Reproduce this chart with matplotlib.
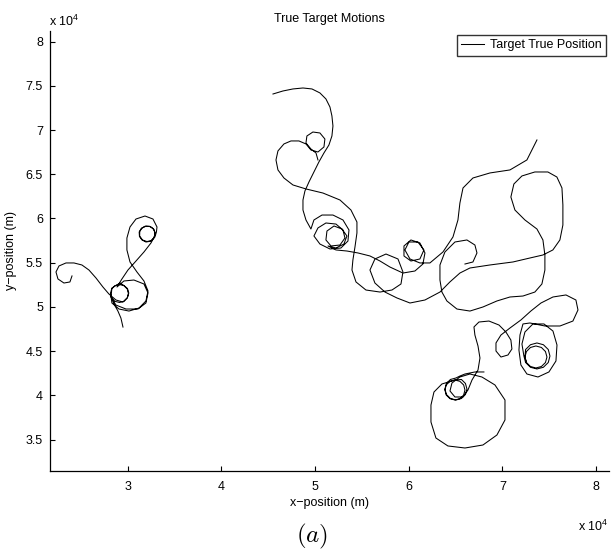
import matplotlib
matplotlib.use('Agg')
import matplotlib.pyplot as plt
from matplotlib.ticker import FuncFormatter

plt.rcParams['font.family'] = ['Liberation Sans', 'DejaVu Sans']

# target tracks, positions in units of 1e4 m
t1_x = [2.406, 2.384, 2.320, 2.256, 2.235, 2.267, 2.342, 2.427, 2.512, 2.587, 2.662, 2.736, 2.800, 2.875, 2.950,
        2.996, 3.008, 2.996, 2.960, 2.913, 2.864, 2.829, 2.816, 2.829, 2.864, 2.913, 2.960, 2.998, 3.012, 2.998, 2.960,
        2.918, 2.832, 2.822, 2.875, 2.982, 3.110, 3.195, 3.217, 3.174, 3.067, 2.960, 2.886,
        2.939, 3.003, 3.089, 3.174, 3.249,
        3.286, 3.291, 3.270, 3.233, 3.185, 3.145, 3.123, 3.126, 3.153, 3.195, 3.243, 3.278, 3.293, 3.281, 3.243,
        3.195, 3.153, 3.129, 3.128, 3.158, 3.206, 3.254, 3.291, 3.307, 3.313,
        3.270, 3.185, 3.089, 3.025, 2.992, 2.992, 3.025, 3.099, 3.174, 3.217, 3.195, 3.121, 3.014, 2.907, 2.832, 2.822,
        2.854, 2.896, 2.928, 2.950]
t1_y = [5.350, 5.282, 5.270, 5.316, 5.395, 5.463, 5.497, 5.497, 5.474, 5.417, 5.327, 5.225, 5.146, 5.078, 5.055,
        5.101, 5.151, 5.202, 5.240, 5.253, 5.240, 5.202, 5.151, 5.101, 5.063, 5.050, 5.063, 5.106, 5.157, 5.208, 5.242,
        5.270, 5.214, 5.112, 5.021, 4.976, 4.976, 5.044, 5.157, 5.259, 5.304, 5.293, 5.225,
        5.316, 5.417, 5.519, 5.621, 5.723,
        5.796, 5.847, 5.887, 5.912, 5.912, 5.887, 5.847, 5.796, 5.757, 5.734, 5.742, 5.776, 5.825, 5.876, 5.908,
        5.913, 5.892, 5.853, 5.802, 5.757, 5.739, 5.751, 5.791, 5.847, 5.904,
        5.994, 6.028, 5.994, 5.904, 5.779, 5.644, 5.508, 5.395, 5.293, 5.180, 5.067, 4.987, 4.953, 4.976, 5.044, 5.123,
        5.033, 4.953, 4.874, 4.772]

t2_x = [4.551, 4.657, 4.764, 4.871, 4.967, 5.052, 5.116, 5.159, 5.180, 5.191, 5.180, 5.148, 5.095, 5.041, 4.988,
        4.935, 4.892, 4.871, 4.871, 4.903, 4.956,
        4.988, 5.074, 5.191, 5.298, 5.362, 5.351, 5.276, 5.159, 5.052, 4.988,
        5.031, 5.116, 5.223, 5.298, 5.319, 5.266, 5.170, 5.116, 5.127, 5.202, 5.287, 5.340, 5.308, 5.223, 5.138,
        5.223, 5.340, 5.458, 5.586, 5.693, 5.799, 5.938, 6.066, 6.151, 6.173, 6.119, 6.023, 5.949, 5.949, 6.023,
        6.119, 6.162, 6.098, 6.002, 5.959, 6.013, 6.119, 6.226, 6.365, 6.472, 6.525, 6.546, 6.579, 6.685, 6.867,
        7.080, 7.261, 7.368]
t2_y = [7.408, 7.442, 7.465, 7.476, 7.465, 7.420, 7.352, 7.261, 7.160, 7.046, 6.933, 6.831, 6.741, 6.639, 6.526,
        6.413, 6.311, 6.209, 6.096, 5.983, 5.881,
        5.983, 6.039, 6.039, 5.983, 5.870, 5.745, 5.666, 5.655, 5.711, 5.802,
        5.893, 5.949, 5.937, 5.870, 5.779, 5.700, 5.689, 5.757, 5.858, 5.915, 5.881, 5.802, 5.711, 5.666, 5.689,
        5.644, 5.632, 5.610, 5.576, 5.519, 5.451, 5.383, 5.406, 5.485, 5.610, 5.723, 5.757, 5.689, 5.576, 5.519,
        5.542, 5.644, 5.734, 5.734, 5.644, 5.542, 5.497, 5.497, 5.621, 5.791, 5.983, 6.175, 6.345, 6.458, 6.515,
        6.549, 6.662, 6.888]

t3_x = [5.031, 5.010, 4.956, 4.903, 4.913, 4.977, 5.052, 5.105, 5.095, 5.031, 4.956, 4.903, 4.828, 4.743, 4.668,
        4.604, 4.583, 4.604, 4.668, 4.764, 4.903, 5.084, 5.266, 5.383, 5.447, 5.447, 5.426, 5.404, 5.394, 5.437,
        5.543, 5.693, 5.821, 5.917, 5.938, 5.885, 5.757, 5.639, 5.586, 5.639, 5.746, 5.874, 6.013, 6.173, 6.333,
        6.439, 6.546, 6.653, 6.866, 7.112, 7.293, 7.432, 7.538, 7.613, 7.645, 7.645, 7.635, 7.581, 7.485, 7.346,
        7.208, 7.122, 7.090, 7.133, 7.240, 7.368, 7.432, 7.453, 7.453, 7.421, 7.346, 7.219, 7.080, 6.941, 6.792,
        6.653, 6.514, 6.407, 6.354, 6.333, 6.333, 6.386, 6.493, 6.621, 6.706, 6.728, 6.685, 6.600]
t3_y = [6.662, 6.741, 6.786, 6.854, 6.933, 6.978, 6.967, 6.899, 6.809, 6.752, 6.775, 6.843, 6.877, 6.877, 6.843,
        6.764, 6.662, 6.549, 6.458, 6.379, 6.334, 6.288, 6.209, 6.096, 5.960, 5.836, 5.678, 5.531, 5.417, 5.282,
        5.191, 5.168, 5.191, 5.259, 5.395, 5.542, 5.598, 5.542, 5.417, 5.270, 5.168, 5.101, 5.044, 5.078, 5.168,
        5.282, 5.383, 5.440, 5.474, 5.508, 5.553, 5.587, 5.644, 5.757, 5.926, 6.153, 6.345, 6.469, 6.526, 6.526,
        6.481, 6.390, 6.243, 6.096, 5.983, 5.881, 5.757, 5.587, 5.417, 5.259, 5.168, 5.123, 5.112, 5.067, 4.999,
        4.953, 4.976, 5.067, 5.168, 5.304, 5.474, 5.621, 5.734, 5.757, 5.700, 5.610, 5.508, 5.485]

t4_x = [6.802, 6.706, 6.600, 6.546,
        6.504, 6.445, 6.402, 6.386, 6.402, 6.445, 6.504, 6.562, 6.605, 6.621, 6.605, 6.562,
        6.493, 6.440, 6.400, 6.386, 6.400, 6.440, 6.493, 6.546, 6.586, 6.600, 6.586, 6.546, 6.493, 6.440,
        6.354, 6.269, 6.237, 6.237, 6.290, 6.418, 6.600, 6.792, 6.941, 7.027,
        7.027, 6.920, 6.781, 6.653, 6.546, 6.461, 6.440, 6.493, 6.578, 6.632,
        6.675, 6.739, 6.760, 6.739, 6.706, 6.696, 6.749, 6.856, 6.963, 7.037,
        7.090, 7.101, 7.059, 6.984, 6.931, 6.931, 6.984, 7.080, 7.197, 7.304,
        7.411, 7.539, 7.678, 7.784, 7.806, 7.752, 7.614, 7.453, 7.293, 7.219,
        7.187, 7.176, 7.197, 7.261, 7.379, 7.496, 7.571, 7.582, 7.539, 7.443,
        7.325, 7.240, 7.208,
        7.229, 7.247, 7.299, 7.368, 7.437, 7.489, 7.507, 7.489, 7.437, 7.368, 7.299, 7.247,
        7.240, 7.256, 7.299, 7.357, 7.416, 7.459, 7.475, 7.459, 7.416, 7.357, 7.299, 7.256, 7.240, 7.256]
t4_y = [4.264, 4.264, 4.241, 4.218,
        4.196, 4.179, 4.134, 4.071, 4.009, 3.964, 3.947, 3.964, 4.009, 4.071, 4.134, 4.179,
        4.173, 4.158, 4.117, 4.060, 4.003, 3.962, 3.947, 3.962, 4.003, 4.060, 4.117, 4.158, 4.173, 4.156,
        4.128, 4.037, 3.890, 3.698, 3.517, 3.427, 3.404, 3.438, 3.551, 3.721,
        3.947, 4.117, 4.207, 4.241, 4.207, 4.139, 4.049, 3.981, 3.981, 4.060,
        4.173, 4.286, 4.422, 4.558, 4.682, 4.773, 4.829, 4.840, 4.795, 4.716,
        4.625, 4.524, 4.456, 4.433, 4.501, 4.592, 4.682, 4.761, 4.852, 4.954,
        5.044, 5.112, 5.135, 5.078, 4.965, 4.840, 4.784, 4.784, 4.818, 4.807,
        4.682, 4.512, 4.343, 4.241, 4.207, 4.264, 4.388, 4.569, 4.727, 4.807,
        4.807, 4.716, 4.580,
        4.444, 4.371, 4.317, 4.298, 4.317, 4.371, 4.444, 4.518, 4.572, 4.592, 4.572, 4.518,
        4.433, 4.371, 4.326, 4.309, 4.326, 4.371, 4.433, 4.495, 4.541, 4.558, 4.541, 4.495, 4.433, 4.371]

tracks = [(t1_x, t1_y), (t2_x, t2_y), (t3_x, t3_y), (t4_x, t4_y)]

x_ticks = [3, 4, 5, 6, 7, 8]
y_ticks = [3.5, 4, 4.5, 5, 5.5, 6, 6.5, 7, 7.5, 8]

fig = plt.figure(figsize=(6.11, 5.56), dpi=100)
ax = fig.add_axes([0.0818, 0.1529, 0.9149, 0.7919])

for i, (x, y) in enumerate(tracks):
    ax.plot(x, y, color='k', lw=0.75, solid_joinstyle='round',
            label='Target True Position' if i == 0 else None)

ax.set_xlim(2.171, 8.137)
ax.set_ylim(3.144, 8.124)
ax.set_xticks(x_ticks)
ax.set_yticks(y_ticks)
fmt = FuncFormatter(lambda v, p: '%g' % v)
ax.xaxis.set_major_formatter(fmt)
ax.yaxis.set_major_formatter(fmt)
ax.tick_params(direction='in', length=3.5, width=0.8, labelsize=9, color='k')
ax.tick_params(axis='x', pad=7)
ax.tick_params(axis='y', pad=5)
for s in ['top', 'right']:
    ax.spines[s].set_visible(False)
for s in ['left', 'bottom']:
    ax.spines[s].set_linewidth(0.9)

ax.set_title('True Target Motions', fontsize=9, pad=6)
ax.set_xlabel('x\u2212position (m)', fontsize=9, labelpad=3)
ax.set_ylabel('y\u2212position (m)', fontsize=9, labelpad=6)

# exponent labels for both axes
fig.text(49 / 611, 1 - 21 / 556, r'x 10$^{\mathregular{4}}$', fontsize=9, ha='left', va='center')
fig.text(608 / 611, 1 - 526 / 556, r'x 10$^{\mathregular{4}}$', fontsize=9, ha='right', va='center')
fig.text(312 / 611, 1 - 536 / 556, r'$(a)$', fontsize=18, ha='center', va='center', math_fontfamily='cm')

leg = ax.legend(loc='upper right', bbox_to_anchor=(606 / 611, 1 - 35 / 556),
                bbox_transform=fig.transFigure, fontsize=9, frameon=True, fancybox=False,
                borderpad=0.35, handlelength=1.8, handletextpad=0.5, borderaxespad=0)
leg.get_frame().set_edgecolor('k')
leg.get_frame().set_linewidth(1.0)

fig.savefig('out.png', dpi=100)
